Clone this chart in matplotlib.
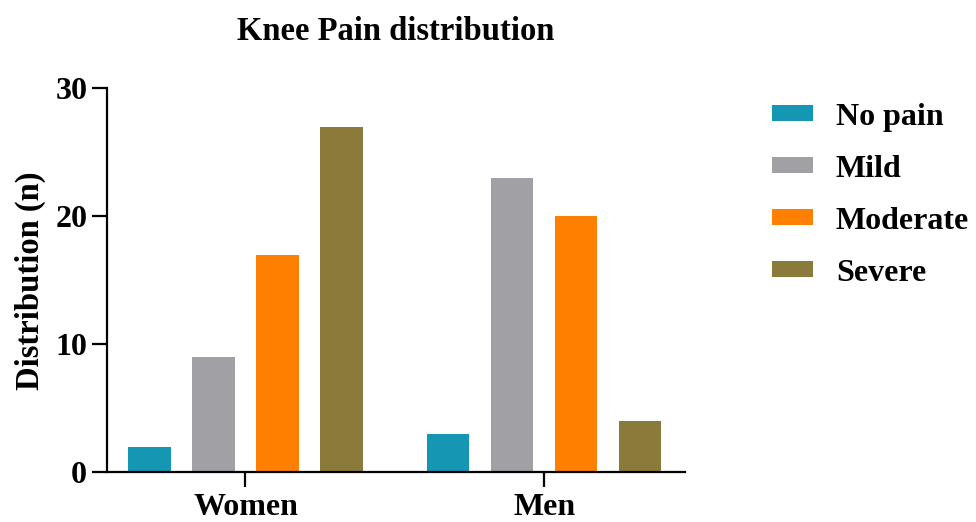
import matplotlib.pyplot as plt
import numpy as np

# data
groups = ['Women', 'Men']
severity = ['No pain', 'Mild', 'Moderate', 'Severe']
women = [2, 9, 17, 27]
men = [3, 23, 20, 4]
colors = ['#1597b3', '#a1a1a5', '#ff8000', '#8b7b3a']

plt.rcParams['font.family'] = ['Liberation Serif', 'DejaVu Serif']
plt.rcParams['font.weight'] = 'bold'

fig = plt.figure(figsize=(9.76, 5.22), dpi=100)
ax = fig.add_axes([0.1093, 0.0952, 0.5925, 0.7356])

group_pos = np.array([0.0, 4.67])
offsets = np.array([-1.5, -0.5, 0.5, 1.5])
values = np.array([women, men])

for j, name in enumerate(severity):
    ax.bar(group_pos + offsets[j], values[:, j], width=0.66,
           color=colors[j], label=name)

ax.set_xlim(-2.17, 6.87)
ax.set_ylim(0, 30)
ax.set_yticks([0, 10, 20, 30])
ax.set_xticks(group_pos)
ax.set_xticklabels(groups)

for side in ['top', 'right']:
    ax.spines[side].set_visible(False)
for side in ['left', 'bottom']:
    ax.spines[side].set_linewidth(1.6)

ax.tick_params(axis='both', direction='out', length=11, width=1.6,
               labelsize=23, pad=3)
ax.tick_params(axis='x', pad=4)
for lbl in ax.get_xticklabels() + ax.get_yticklabels():
    lbl.set_fontweight('bold')

ax.set_ylabel('Distribution (n)', fontsize=23.5, fontweight='bold', labelpad=7)
ax.set_title('Knee Pain distribution', fontsize=23.5, fontweight='bold', pad=35)

ax.legend(loc='upper left', bbox_to_anchor=(0.791, 0.8035),
          bbox_transform=fig.transFigure, frameon=False,
          prop={'size': 23, 'weight': 'bold'},
          handlelength=1.28, handleheight=0.4, handletextpad=0.72,
          labelspacing=0.72, borderaxespad=0, borderpad=0)

fig.savefig('out.png', dpi=100)
